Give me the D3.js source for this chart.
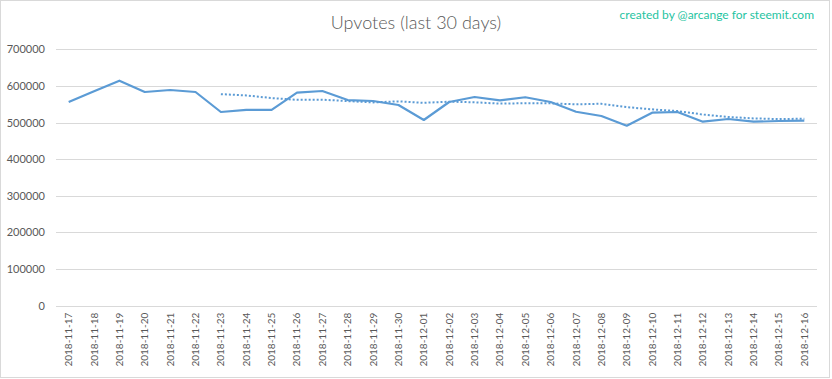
<!DOCTYPE html>
<html>
<head>
<meta charset="utf-8">
<script src="https://cdn.jsdelivr.net/npm/d3@7"></script>
<style>
  body { margin: 0; background: #fff; }
  svg { display: block; font-family: Lato, "Open Sans", sans-serif; }
</style>
</head>
<body>
<svg id="upvotes-chart" width="832" height="379"></svg>
<script>
// values
var dates = ["2018-11-17","2018-11-18","2018-11-19","2018-11-20","2018-11-21","2018-11-22","2018-11-23",
             "2018-11-24","2018-11-25","2018-11-26","2018-11-27","2018-11-28","2018-11-29","2018-11-30",
             "2018-12-01","2018-12-02","2018-12-03","2018-12-04","2018-12-05","2018-12-06","2018-12-07",
             "2018-12-08","2018-12-09","2018-12-10","2018-12-11","2018-12-12","2018-12-13","2018-12-14",
             "2018-12-15","2018-12-16"];
var upvotes = [556100, 585500, 614300, 583400, 588900, 583400, 528800, 534500, 534500, 581500,
               586100, 561500, 558800, 547900, 507000, 556100, 569800, 560600, 569000, 556100,
               529600, 517900, 491400, 526900, 528800, 502300, 509700, 502300, 504200, 505100];
// dotted trend line, begins on 2018-11-23
var trend = [null, null, null, null, null, null, 577500, 574100, 566800, 562100,
             562500, 558600, 555100, 557800, 553900, 557000, 555300, 551700, 552800, 552400,
             549800, 551300, 542100, 536000, 531400, 521900, 515300, 511400, 509500, 510500];
var yTicks = [0, 100000, 200000, 300000, 400000, 500000, 600000, 700000];

var svg = d3.select("#upvotes-chart");
var l_left = 56, l_right = 817, l_top = 49.3, l_bottom = 305.7;
var lineColor = "#5b9bd5";

// frame
svg.append("rect")
    .attr("x", 0.5).attr("y", 0.5).attr("width", 829).attr("height", 377)
    .attr("fill", "#fff").attr("stroke", "#d9d9d9");

var x = d3.scaleBand().domain(dates).range([l_left, l_right]);
var y = d3.scaleLinear().domain([0, 700000]).range([l_bottom, l_top]);

// y axis + grid
var yAxis = svg.append("g")
    .attr("transform", "translate(" + l_left + ",0)")
    .call(d3.axisLeft(y).tickValues(yTicks).tickSize(-(l_right - l_left)).tickPadding(11).tickFormat(d3.format("d")));
yAxis.select(".domain").remove();
yAxis.selectAll(".tick line").attr("stroke", "#d9d9d9").attr("shape-rendering", "crispEdges");
yAxis.selectAll(".tick text").attr("fill", "#595959").style("font-size", "11px")
    .style("font-family", "Lato, sans-serif");

// x labels
var xAxis = svg.append("g")
    .attr("transform", "translate(0," + l_bottom + ")")
    .call(d3.axisBottom(x).tickSize(0));
xAxis.select(".domain").remove();
xAxis.selectAll(".tick text")
    .attr("fill", "#595959")
    .style("font-size", "10px")
    .style("font-family", "Lato, sans-serif")
    .attr("text-anchor", "end")
    .attr("transform", "rotate(-90)")
    .attr("x", -7).attr("y", 0).attr("dy", "0.35em");

var cx = (d, i) => x(dates[i]) + x.bandwidth() / 2;

// trend (dotted)
svg.append("path")
    .datum(trend)
    .attr("fill", "none")
    .attr("stroke", lineColor)
    .attr("stroke-width", 2)
    .attr("stroke-dasharray", "2,2")
    .attr("d", d3.line().defined(d => d !== null).x(cx).y(d => y(d)));

// main series
svg.append("path")
    .datum(upvotes)
    .attr("fill", "none")
    .attr("stroke", lineColor)
    .attr("stroke-width", 2.2)
    .attr("stroke-linejoin", "round")
    .attr("d", d3.line().x(cx).y(d => y(d)));

// title
svg.append("text")
    .attr("x", 416).attr("y", 29)
    .attr("text-anchor", "middle")
    .attr("fill", "#595959")
    .style("font-size", "18px")
    .style("font-weight", 300)
    .text("Upvotes (last 30 days)");

svg.append("text")
    .attr("x", 814).attr("y", 19)
    .attr("text-anchor", "end")
    .attr("fill", "#1fc4a2")
    .style("font-size", "12px")
    .text("created by @arcange for steemit.com");
</script>
</body>
</html>
